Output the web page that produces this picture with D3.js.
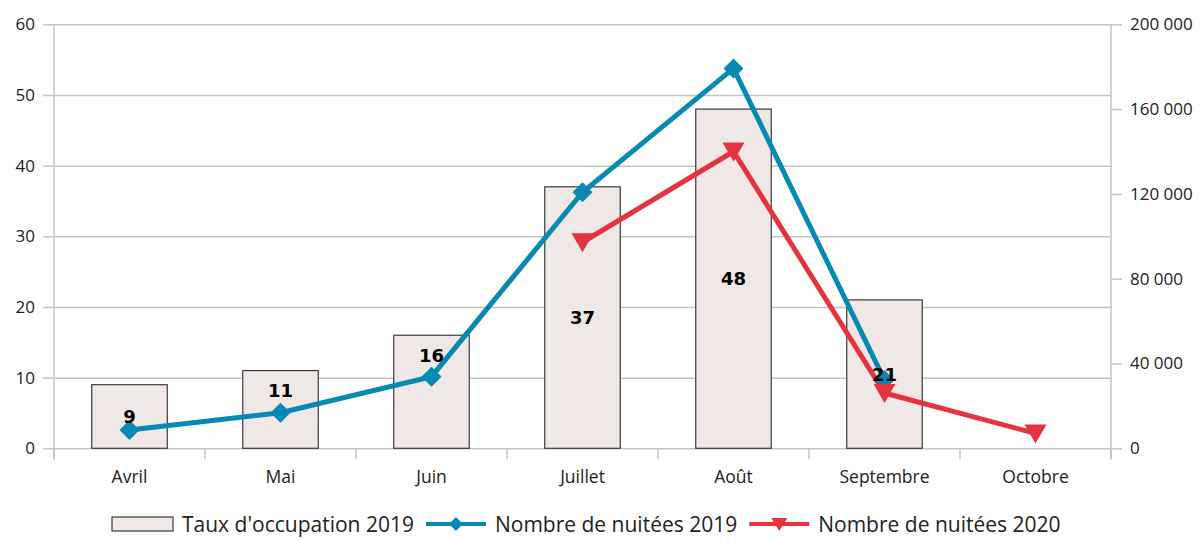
<!DOCTYPE html>
<html><head><meta charset="utf-8">
<script src="https://cdn.jsdelivr.net/npm/d3@7"></script>
<style>
html,body{margin:0;padding:0;background:#fff;}
svg{display:block;font-family:"Open Sans", sans-serif;}
</style></head>
<body><svg id="c" width="1203" height="540"></svg>
<script>
const categories = ["Avril","Mai","Juin","Juillet","Août","Septembre","Octobre"];
const occupation2019 = [9, 11, 16, 37, 48, 21, null];
const nuitees2019 = [8600, 16800, 33800, 120800, 179200, 32200, null];
const nuitees2020 = [null, null, null, 97200, 140000, 26100, 7000];
const leftTicks = [0, 10, 20, 30, 40, 50, 60];
const rightTicks = [0, 40000, 80000, 120000, 160000, 200000];
const seriesNames = ["Taux d'occupation 2019", "Nombre de nuitées 2019", "Nombre de nuitées 2020"];

// label placement along the bar (fraction of bar height)
const labelFrac = [0.5, 0.74, 0.82, 0.5, 0.5, 0.5, 0.5];

const svg = d3.select("#c");
const m = {l:54, r:1111, t:24.3, b:448.3};
const blue = "#0689B3", red = "#E5343F", grid = "#C4C4C4";
const FONT = "'Open Sans', sans-serif";

const x = d3.scaleBand().domain(categories).range([m.l, m.r]);
const yL = d3.scaleLinear().domain([0,60]).range([m.b, m.t]);
const yR = d3.scaleLinear().domain([0,200000]).range([m.b, m.t]);

// gridlines + left ticks
const gL = svg.append("g").attr("transform",`translate(${m.l},0)`)
  .call(d3.axisLeft(yL).tickValues(leftTicks).tickSize(11).tickPadding(8).tickFormat(d3.format("d")));
gL.select(".domain").remove();
gL.selectAll(".tick line").attr("stroke",grid).attr("stroke-width",1.5);
gL.selectAll(".tick").append("line").attr("x1",0).attr("x2",m.r-m.l).attr("stroke",grid).attr("stroke-width",1.5);
gL.selectAll(".tick text").attr("fill","#222").style("font-size","17px").style("font-family",FONT);

// right axis
const gR = svg.append("g").attr("transform",`translate(${m.r},0)`)
  .call(d3.axisRight(yR).tickValues(rightTicks).tickSize(11).tickPadding(8)
    .tickFormat(d => d3.format(",")(d).replace(/,/g," ")));
gR.select(".domain").remove();
gR.selectAll(".tick line").attr("stroke",grid).attr("stroke-width",1.5);
gR.selectAll(".tick text").attr("fill","#222").style("font-size","17px").style("font-family",FONT);

// vertical axis lines
svg.append("line").attr("x1",m.l).attr("x2",m.l).attr("y1",m.t).attr("y2",m.b+11).attr("stroke",grid).attr("stroke-width",1.5);
svg.append("line").attr("x1",m.r).attr("x2",m.r).attr("y1",m.t).attr("y2",m.b+11).attr("stroke",grid).attr("stroke-width",1.5);

// category axis
const gX = svg.append("g").attr("transform",`translate(0,${m.b})`)
  .call(d3.axisBottom(x).tickSize(0).tickPadding(22));
gX.select(".domain").remove();
gX.selectAll(".tick text").attr("fill","#222").style("font-size","17.5px").style("font-family",FONT);
gX.selectAll(".tick line").remove();
svg.append("g").selectAll("line").data(categories.concat([null])).join("line")
  .attr("x1",(d,i)=>m.l + i*x.step()).attr("x2",(d,i)=>m.l + i*x.step())
  .attr("y1",m.b).attr("y2",m.b+11).attr("stroke",grid).attr("stroke-width",1.5);

// bars
const bw = x.bandwidth()*0.5;
const barData = categories.map((c,i)=>({c, v:occupation2019[i], i})).filter(d=>d.v!=null);
svg.append("g").selectAll("rect").data(barData).join("rect")
  .attr("x", d=>x(d.c)+x.bandwidth()/2-bw/2).attr("width", bw)
  .attr("y", d=>yL(d.v)).attr("height", d=>yL(0)-yL(d.v))
  .attr("fill","#F0E8E6").attr("stroke","#3a3a3a").attr("stroke-width",1.2);

// lines
const cx = c => x(c)+x.bandwidth()/2;
function drawLine(vals, color){
  const pts = categories.map((c,i)=>({c, v:vals[i]})).filter(d=>d.v!=null);
  svg.append("path").datum(pts)
    .attr("d", d3.line().x(d=>cx(d.c)).y(d=>yR(d.v)))
    .attr("fill","none").attr("stroke",color).attr("stroke-width",5).attr("stroke-linejoin","miter");
  return pts;
}
const p19 = drawLine(nuitees2019, blue);
const p20 = drawLine(nuitees2020, red);

const diamond = "M0,-10L10,0L0,10L-10,0Z";
const tri = "M-11,-9L11,-9L0,10Z";
svg.append("g").selectAll("path").data(p19).join("path")
  .attr("transform", d=>`translate(${cx(d.c)},${yR(d.v)})`).attr("d",diamond).attr("fill",blue);
svg.append("g").selectAll("path").data(p20).join("path")
  .attr("transform", d=>`translate(${cx(d.c)},${yR(d.v)})`).attr("d",tri).attr("fill",red);

// data labels
svg.append("g").selectAll("text").data(barData).join("text")
  .attr("x", d=>cx(d.c)).attr("y", d=>yL(d.v*labelFrac[d.i]))
  .attr("text-anchor","middle").attr("dominant-baseline","central")
  .style("font-family","'DejaVu Sans', sans-serif").style("font-weight","bold").style("font-size","18px")
  .attr("fill","#000").text(d=>d.v);

// legend
const lg = svg.append("g");
const ly = 524;
const LFS = "21px";
lg.append("rect").attr("x",112).attr("y",ly-7).attr("width",61).attr("height",14)
  .attr("fill","#F0E8E6").attr("stroke","#3a3a3a").attr("stroke-width",1.2);
const t1 = lg.append("text").attr("x",182).attr("y",ly).attr("dominant-baseline","central")
  .style("font-size",LFS).attr("fill","#222").text(seriesNames[0]);
let xx = 182 + t1.node().getComputedTextLength() + 12;
lg.append("line").attr("x1",xx).attr("x2",xx+60).attr("y1",ly).attr("y2",ly).attr("stroke",blue).attr("stroke-width",4);
lg.append("path").attr("transform",`translate(${xx+30},${ly})`).attr("d","M0,-7L7,0L0,7L-7,0Z").attr("fill",blue);
const t2 = lg.append("text").attr("x",xx+69).attr("y",ly).attr("dominant-baseline","central")
  .style("font-size",LFS).attr("fill","#222").text(seriesNames[1]);
xx = xx+69 + t2.node().getComputedTextLength() + 12;
lg.append("line").attr("x1",xx).attr("x2",xx+60).attr("y1",ly).attr("y2",ly).attr("stroke",red).attr("stroke-width",4);
lg.append("path").attr("transform",`translate(${xx+30},${ly})`).attr("d","M-8,-6L8,-6L0,7Z").attr("fill",red);
lg.append("text").attr("x",xx+69).attr("y",ly).attr("dominant-baseline","central")
  .style("font-size",LFS).attr("fill","#222").text(seriesNames[2]);
</script></body></html>
